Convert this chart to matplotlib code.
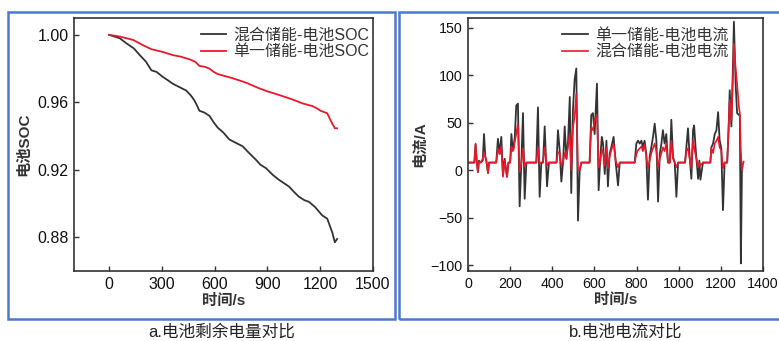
import numpy as np
import matplotlib.pyplot as plt
from matplotlib.patches import Rectangle

plt.rcParams['font.family'] = ['Liberation Sans', 'Noto Sans CJK SC', 'DejaVu Sans']

# a. 电池SOC
t_soc_mix = [0, 60, 98, 140, 174, 210, 240, 270, 306, 335, 362, 400, 438, 465, 485,
             500, 513, 540, 570, 595, 617, 650, 683, 720, 758, 795, 834, 860, 891,
             930, 966, 995, 1023, 1050, 1079, 1110, 1136, 1170, 1211, 1240, 1268,
             1283, 1296]
soc_mix = [1.000, 0.998, 0.995, 0.992, 0.988, 0.984, 0.979, 0.978, 0.975, 0.973,
           0.971, 0.969, 0.967, 0.964, 0.961, 0.958, 0.955, 0.954, 0.952, 0.948,
           0.945, 0.942, 0.938, 0.936, 0.934, 0.930, 0.926, 0.923, 0.921, 0.917,
           0.914, 0.912, 0.910, 0.907, 0.904, 0.902, 0.901, 0.898, 0.893, 0.891,
           0.883, 0.877, 0.879]
t_soc_single = [0, 60, 136, 190, 240, 300, 362, 410, 457, 490, 513, 545, 570, 595,
                617, 660, 702, 740, 777, 815, 853, 900, 947, 985, 1023, 1060, 1098,
                1130, 1155, 1180, 1202, 1240, 1258, 1283, 1296]
soc_single = [1.000, 0.999, 0.997, 0.994, 0.9915, 0.990, 0.988, 0.987, 0.9855,
              0.984, 0.9816, 0.981, 0.980, 0.978, 0.9768, 0.9755, 0.9743, 0.973,
              0.9717, 0.970, 0.9683, 0.9665, 0.965, 0.9637, 0.9624, 0.961, 0.9594,
              0.9585, 0.9578, 0.9565, 0.955, 0.9535, 0.9495, 0.9446, 0.9446]

# b. 电池电流
t_cur = [0, 30, 36, 41, 47, 52, 60, 70, 76, 82, 87, 95, 100, 134, 142, 150, 158,
         166, 174, 185, 192, 200, 206, 212, 217, 222, 229, 237, 245, 253, 261, 269,
         277, 324, 332, 340, 348, 356, 364, 375, 384, 420, 427, 435, 443, 451, 459,
         467, 475, 483, 490, 498, 506, 514, 522, 530, 538, 577, 585, 593, 601, 612,
         620, 628, 635, 641, 649, 657, 664, 672, 680, 691, 701, 712, 720, 791, 799,
         807, 815, 823, 830, 838, 846, 854, 862, 870, 878, 886, 894, 902, 910, 918,
         925, 933, 941, 949, 958, 965, 973, 981, 989, 997, 1030, 1036, 1044, 1052,
         1060, 1068, 1073, 1081, 1092, 1098, 1103, 1115, 1150, 1155, 1163, 1171,
         1179, 1187, 1194, 1202, 1210, 1218, 1230, 1236, 1242, 1250, 1258, 1262,
         1270, 1277, 1286, 1290, 1295, 1300, 1308]
i_single = [8, 8, 27, 10, -2, 10, 8, 10, 38, 14, 10, -3, 8, 8, 33, 17, 35,
            -5, 12, -7, 8, 8, 38, 22, 25, 35, 68, 70, -38, 7, 60, -30,
            8, 8, 66, -28, 8, 8, 46, -17, 8, 8, 42, 21, -12, 8, 46,
            12, 31, 77, -24, 63, 95, 107, -53, 0, 8, 8, 58, 60, 38, 91,
            -21, 14, 35, 28, -4, 31, -17, 17, 24, 35, 8, -16, 8, 8, 28,
            31, 28, 31, 24, 31, 17, -31, 14, 24, 35, 49, 31, -33, 17, 28,
            42, 28, 38, 8, 8, 53, 14, 8, -28, 8, 8, 24, 44, 14,
            -9, 42, 47, 21, -9, 10, -10, 8, 8, 24, 28, 38,
            42, 61, 32, 23, -42, 8, 8, 38, 84, 46, 116, 156,
            91, 60, 58, 58, -98, 0, np.nan]
i_hybrid = [8, 8, 28, 12, -2, 9, 8, 12, 19, 15, 10, -3, 8, 8, 23, 17, 25,
            -7, 10, -7, 8, 8, 25, 20, 22, 30, 38, 49, -2, 7, 23, 4,
            8, 8, 24, 7, 8, 8, 24, 5, 8, 8, 19, 18, 5, 8, 18,
            12, 26, 38, 0, 45, 56, 80, 0, 0, 8, 8, 45, 42, 52, 58,
            3, 10, 22, 19, 5, 24, 2, 14, 21, 28, 10, 3, 8, 8, 17,
            21, 23, 25, 20, 27, 15, 2, 10, 18, 23, 28, 20, 2, 12, 18,
            24, 20, 28, 8, 8, 31, 12, 8, 3, 8, 8, 20, 23, 12,
            2, 31, 24, 15, 3, 8, 5, 8, 8, 23, 18, 28,
            31, 35, 24, 21, 2, 8, 8, 40, 74, 52, 102, 133,
            108, 91, 66, 60, 20, 0, 9]

W, H = 779, 341
fig = plt.figure(figsize=(W / 100, H / 100), dpi=100)

def px_box(x0, y0, x1, y1):
    return [x0 / W, (H - y1) / H, (x1 - x0) / W, (y1 - y0) / H]

dark = '#333333'
red = '#e8192c'
blue = '#4d79cc'

for x0, x1 in [(8, 395), (399, 782)]:
    b = px_box(x0, 12, x1, 319)
    fig.patches.append(Rectangle((b[0], b[1]), b[2], b[3], transform=fig.transFigure,
                                 fill=False, edgecolor=blue, linewidth=1.8))

def style(ax, size):
    for s in ax.spines.values():
        s.set_color(dark)
        s.set_linewidth(1.2)
    ax.tick_params(direction='in', length=3.5, width=1.0, color=dark,
                   labelsize=size, labelcolor='#111111', pad=4)

def legend(ax, x_anchor):
    ax.legend(loc='upper right', bbox_to_anchor=(x_anchor, 1.0), frameon=False,
              handlelength=1.6, handletextpad=0.45, labelspacing=0.1,
              borderaxespad=0.2, labelcolor=dark,
              prop={'size': 11.5, 'weight': 'medium'})

ax1 = fig.add_axes(px_box(74, 18, 373, 271))
ax1.plot(t_soc_mix, soc_mix, color=dark, lw=1.3, label='混合储能-电池SOC')
ax1.plot(t_soc_single, soc_single, color=red, lw=1.3, label='单一储能-电池SOC')
ax1.set_xlim(-200, 1500)
ax1.set_ylim(0.86, 1.01)
ax1.set_xticks([0, 300, 600, 900, 1200, 1500])
ax1.set_yticks([0.88, 0.92, 0.96, 1.00])
ax1.set_yticklabels(['0.88', '0.92', '0.96', '1.00'])
ax1.set_xlabel('时间/s', fontsize=11, fontweight='bold', color=dark, labelpad=2)
ax1.set_ylabel('电池SOC', fontsize=11, fontweight='bold', color=dark, labelpad=4)
style(ax1, 11.5)
legend(ax1, 1.02)

ax2 = fig.add_axes(px_box(468, 18, 763, 271))
ax2.plot(t_cur, i_single, color=dark, lw=1.3, label='单一储能-电池电流')
ax2.plot(t_cur, i_hybrid, color=red, lw=1.2, label='混合储能-电池电流')
ax2.set_xlim(0, 1400)
ax2.set_ylim(-106, 160)
ax2.set_xticks(range(0, 1401, 200))
ax2.set_yticks([-100, -50, 0, 50, 100, 150])
ax2.set_xlabel('时间/s', fontsize=11, fontweight='bold', color=dark, labelpad=2)
ax2.set_ylabel('电流/A', fontsize=11, fontweight='bold', color=dark, labelpad=2)
style(ax2, 10.3)
legend(ax2, 0.915)

fig.text(222 / W, 1 - 332 / H, 'a.电池剩余电量对比', fontsize=12, color='#222222',
         ha='center', va='center')
fig.text(626 / W, 1 - 332 / H, 'b.电池电流对比', fontsize=12, color='#222222',
         ha='center', va='center')

fig.savefig('out.png', dpi=100)
